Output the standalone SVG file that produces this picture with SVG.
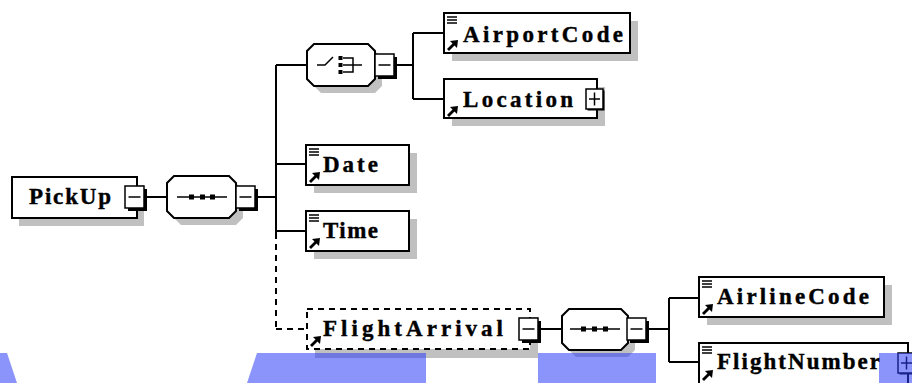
<svg xmlns="http://www.w3.org/2000/svg" width="912" height="383" viewBox="0 0 912 383">
<style>
.box{fill:#fff;stroke:#000;stroke-width:2}
.dbox{fill:#fff;stroke:#000;stroke-width:2;stroke-dasharray:6 5}
.sh{fill:#c0c0c0}
.conn{fill:none;stroke:#000;stroke-width:2}
.dash{stroke-dasharray:6 5}
.ic{fill:none;stroke:#000;stroke-width:1.5}
.lbl{font-family:"Liberation Serif","DejaVu Serif",serif;font-weight:bold;font-size:23px;fill:#000;stroke:#000;stroke-width:0.4}
.blue{fill:#2a3cf7;fill-opacity:0.55}
</style>
<defs>
<g id="minus">
<rect x="3" y="3" width="19" height="22" fill="#000"/>
<rect x="0" y="0" width="19" height="22" fill="#fff" stroke="#000" stroke-width="1.5"/>
<line x1="3.5" y1="11" x2="15.5" y2="11" stroke="#000" stroke-width="1.5"/>
</g>
<g id="plus">
<rect x="1.5" y="1.5" width="17" height="20" fill="#000"/>
<rect x="0" y="0" width="17" height="20" fill="#fff" stroke="#000" stroke-width="1.5"/>
<line x1="3" y1="10" x2="14" y2="10" stroke="#000" stroke-width="1.5"/>
<line x1="8.5" y1="3.5" x2="8.5" y2="16.5" stroke="#000" stroke-width="1.5"/>
</g>
<g id="lines">
<path d="M3,4H13M3,7H13M3,10H13" fill="none" stroke="#000" stroke-width="1.5"/>
</g>
<g id="ref">
<line x1="4" y1="37" x2="11" y2="30" stroke="#000" stroke-width="2.8"/>
<polygon points="14,27 6,28 13,35" fill="#000"/>
</g>
</defs>

<g id="connectors">
<line class="conn" x1="147" y1="197" x2="167" y2="197"/>
<line class="conn" x1="258" y1="197" x2="276" y2="197"/>
<line class="conn" x1="276" y1="65" x2="276" y2="233"/>
<line class="conn dash" x1="276" y1="233" x2="276" y2="329"/>
<line class="conn" x1="276" y1="65" x2="307" y2="65"/>
<line class="conn" x1="276" y1="164" x2="306" y2="164"/>
<line class="conn" x1="276" y1="231" x2="306" y2="231"/>
<line class="conn dash" x1="276" y1="329" x2="307" y2="329"/>
<line class="conn" x1="396" y1="65" x2="413" y2="65"/>
<line class="conn" x1="413" y1="33" x2="413" y2="99"/>
<line class="conn" x1="413" y1="33" x2="444" y2="33"/>
<line class="conn" x1="413" y1="99" x2="444" y2="99"/>
<line class="conn" x1="541" y1="329" x2="562" y2="329"/>
<line class="conn" x1="649" y1="329" x2="669" y2="329"/>
<line class="conn" x1="669" y1="298" x2="669" y2="362"/>
<line class="conn" x1="669" y1="298" x2="699" y2="298"/>
<line class="conn" x1="669" y1="362" x2="699" y2="362"/>
</g>

<g id="node-pickup">
<rect class="sh" x="19" y="185" width="125" height="41"/>
<rect class="box" x="12" y="177" width="125" height="41"/>
<text class="lbl" x="29" y="204" textLength="82" lengthAdjust="spacing">PickUp</text>
<use href="#minus" x="125" y="186"/>
</g>

<g id="node-sequence1">
<polygon class="sh" points="181,183 236,183 243,190 243,218 236,225 181,225 174,218 174,190"/>
<polygon class="box" points="174,176 229,176 236,183 236,211 229,218 174,218 167,211 167,183"/>
<line x1="177" y1="197" x2="227" y2="197" stroke="#000" stroke-width="1.5"/>
<rect x="189" y="194.5" width="5" height="5"/>
<rect x="200" y="194.5" width="5" height="5"/>
<rect x="210" y="194.5" width="5" height="5"/>
<use href="#minus" x="236" y="186"/>
</g>

<g id="node-choice">
<polygon class="sh" points="321,51 375,51 382,58 382,86 375,93 321,93 314,86 314,58"/>
<polygon class="box" points="314,44 368,44 375,51 375,79 368,86 314,86 307,79 307,51"/>
<path class="ic" d="M317,65H325L333,57" stroke-width="2"/>
<rect x="338.5" y="56" width="4" height="4"/>
<rect x="338.5" y="63" width="4" height="4"/>
<rect x="338.5" y="70" width="4" height="4"/>
<path class="ic" d="M343,58H353V72H343M343,65H362"/>
<use href="#minus" x="375" y="54"/>
</g>

<g id="node-airportcode">
<rect class="sh" x="452" y="21" width="186" height="40"/>
<rect class="box" x="444" y="13" width="186" height="40"/>
<use href="#lines" x="444" y="13"/>
<use href="#ref" x="444" y="13"/>
<text class="lbl" x="463" y="42" textLength="160" lengthAdjust="spacing">AirportCode</text>
</g>

<g id="node-location">
<rect class="sh" x="452" y="87" width="153" height="39"/>
<rect class="box" x="444" y="79" width="153" height="39"/>
<use href="#ref" x="444" y="79"/>
<text class="lbl" x="463" y="107" textLength="110" lengthAdjust="spacing">Location</text>
<use href="#plus" x="586" y="89"/>
</g>

<g id="node-date">
<rect class="sh" x="314" y="153" width="103" height="40"/>
<rect class="box" x="306" y="145" width="103" height="40"/>
<use href="#lines" x="306" y="145"/>
<use href="#ref" x="306" y="145"/>
<text class="lbl" x="323" y="172" textLength="55" lengthAdjust="spacing">Date</text>
</g>

<g id="node-time">
<rect class="sh" x="314" y="219" width="103" height="40"/>
<rect class="box" x="306" y="211" width="103" height="40"/>
<use href="#lines" x="306" y="211"/>
<use href="#ref" x="306" y="211"/>
<text class="lbl" x="323" y="238" textLength="55" lengthAdjust="spacing">Time</text>
</g>

<g id="node-flightarrival">
<rect class="sh" x="315" y="317" width="223" height="41"/>
<rect class="dbox" x="307" y="309" width="223" height="40"/>
<use href="#ref" x="307" y="309"/>
<text class="lbl" x="323" y="336" textLength="180" lengthAdjust="spacing">FlightArrival</text>
<use href="#minus" x="519" y="318"/>
</g>

<g id="node-sequence2">
<polygon class="sh" points="576,316 628,316 635,323 635,350 628,357 576,357 569,350 569,323"/>
<polygon class="box" points="569,309 621,309 628,316 628,343 621,350 569,350 562,343 562,316"/>
<line x1="570" y1="329" x2="620" y2="329" stroke="#000" stroke-width="1.5"/>
<rect x="581" y="326.5" width="5" height="5"/>
<rect x="592" y="326.5" width="5" height="5"/>
<rect x="603" y="326.5" width="5" height="5"/>
<use href="#minus" x="627" y="318"/>
</g>

<g id="node-airlinecode">
<rect class="sh" x="707" y="285" width="185" height="40"/>
<rect class="box" x="699" y="277" width="185" height="40"/>
<use href="#lines" x="699" y="277"/>
<use href="#ref" x="699" y="277"/>
<text class="lbl" x="717" y="304" textLength="152" lengthAdjust="spacing">AirlineCode</text>
</g>

<g id="node-flightnumber">
<rect class="box" x="699" y="343" width="209" height="45"/>
<use href="#lines" x="699" y="343"/>
<use href="#ref" x="699" y="343"/>
<text class="lbl" x="717" y="369" textLength="163" lengthAdjust="spacing">FlightNumber</text>
<use href="#plus" x="898" y="353"/>
</g>

<g id="overlay">
<polygon class="blue" points="0,353 7,353 17,383 0,383"/>
<polygon class="blue" points="257,353 426,353 426,383 247,383"/>
<rect class="blue" x="538" y="353" width="118" height="30"/>
<rect class="blue" x="879" y="353" width="33" height="30"/>
</g>
</svg>
